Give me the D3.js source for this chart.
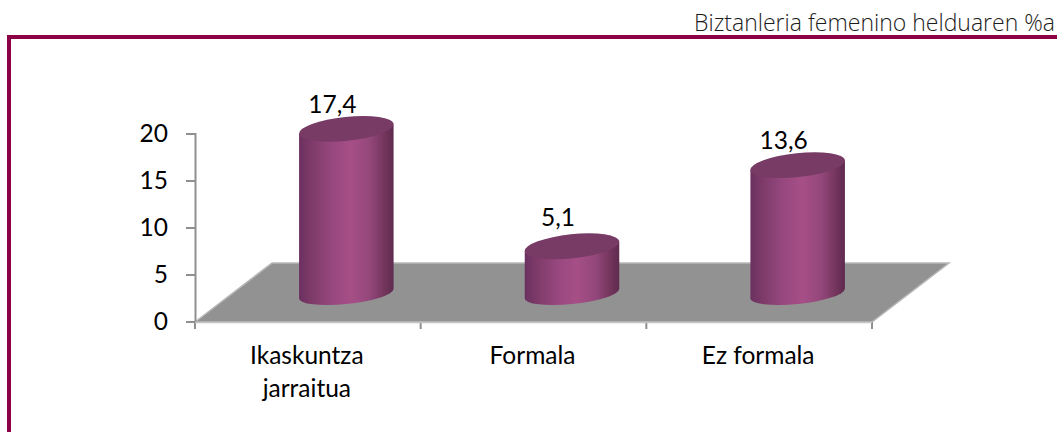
<!DOCTYPE html>
<html><head><meta charset="utf-8">
<script src="https://cdn.jsdelivr.net/npm/d3@7"></script>
<style>html,body{margin:0;padding:0;background:#fff}svg{display:block}</style>
</head><body><div id="c"></div>
<script>
const categories=[["Ikaskuntza","jarraitua"],["Formala"],["Ez formala"]];
const values=[17.4,5.1,13.6];
const valueLabels=["17,4","5,1","13,6"];
const yTicks=[0,5,10,15,20];
const headerText="Biztanleria femenino helduaren %a";
const labelLift=[16,20,16];

const W=1057,H=432;
const svg=d3.select("#c").append("svg").attr("width",W).attr("height",H);
const defs=svg.append("defs");
const grad=defs.append("linearGradient").attr("id","cyl").attr("x1","0").attr("x2","1").attr("y1","0").attr("y2","0");
[[0,"#6b3060"],[0.12,"#7c3a68"],[0.35,"#97487f"],[0.55,"#a64f87"],[0.75,"#93477b"],[0.92,"#703359"],[1,"#5f2b50"]]
  .forEach(s=>grad.append("stop").attr("offset",s[0]).attr("stop-color",s[1]));

// frame
const frame="#8c0045";
svg.append("path").attr("d",`M9,${H}V37H${W}`).attr("fill","none").attr("stroke",frame).attr("stroke-width",4);
svg.append("text").attr("x",1055).attr("y",31).attr("text-anchor","end")
  .attr("font-family","'Open Sans',sans-serif").attr("font-weight",300).attr("font-size",23).attr("fill","#1c1c1c").text(headerText);

const x=d3.scaleBand().domain(categories.map(c=>c.join(" "))).range([195,872]);
const y=d3.scaleLinear().domain([0,20]).range([321.5,133.5]);
const barY=d3.scaleLinear().domain([0,20]).range([295,104]);
const depthX=77,depthY=59,barDX=38.5;
const floorY=322;
const font="Lato,sans-serif",fs=24.5;

// floor
svg.append("path")
 .attr("d",d3.line()([[x.range()[0],floorY],[x.range()[0]+depthX,floorY-depthY],[x.range()[1]+depthX,floorY-depthY],[x.range()[1],floorY]])+"Z")
 .attr("fill","#929292").attr("stroke","#b8b8b8").attr("stroke-width",1.5);

// y axis
const yAxis=d3.axisLeft(y).tickValues(yTicks).tickSize(9).tickPadding(18);
const gy=svg.append("g").attr("transform","translate(195,0)").call(yAxis);
gy.select(".domain").attr("stroke","#8f8f8f").attr("stroke-width",2);
gy.selectAll("line").attr("stroke","#8f8f8f").attr("stroke-width",2);
gy.selectAll("text").attr("font-family",font).attr("font-size",fs).attr("fill","#000");

// x axis
const edges=[x.range()[0],...x.domain().map(d=>x(d)+x.bandwidth())];
svg.append("g").selectAll("line").data(edges).join("line")
 .attr("x1",d=>d).attr("x2",d=>d).attr("y1",floorY).attr("y2",329)
 .attr("stroke","#8f8f8f").attr("stroke-width",2);
svg.append("line").attr("x1",edges[0]).attr("x2",edges[3]).attr("y1",floorY+.5).attr("y2",floorY+.5)
 .attr("stroke","#c4c4c4").attr("stroke-width",1.5);
const labs=svg.append("g").selectAll("text").data(categories).join("text")
 .attr("text-anchor","middle").attr("font-family",font).attr("font-size",fs).attr("fill","#000");
labs.each(function(c){
 const k=c.join(" ");
 d3.select(this).selectAll("tspan").data(c).join("tspan")
  .attr("x",x(k)+x.bandwidth()/2-1).attr("y",(d,i)=>364+i*32.5).text(d=>d);
});

// cylinders
const rx=47.5,ry=12,rot=-6,th=rot*Math.PI/180;
const rb=10.5;
const ex=Math.sqrt(rx*rx*Math.cos(th)**2+ry*ry*Math.sin(th)**2);
const eyOf=r=>(rx*rx-r*r)*Math.sin(Math.abs(th))*Math.cos(th)/ex;
const ey=eyOf(ry),eb=eyOf(rb);
const g=svg.append("g").selectAll("g").data(values).join("g");
g.each(function(v,i){
 const k=x.domain()[i], cx=x(k)+x.bandwidth()/2+barDX, base=barY(0)-1.5, top=barY(v);
 const s=d3.select(this);
 s.append("path").attr("fill","url(#cyl)")
  .attr("d",`M${cx-ex},${top+ey}L${cx-ex},${base+eb}A${rx},${rb} ${rot} 0 0 ${cx+ex},${base-eb}L${cx+ex},${top-ey}Z`);
 s.append("ellipse").attr("cx",cx).attr("cy",top).attr("rx",rx).attr("ry",ry)
  .attr("transform",`rotate(${rot} ${cx} ${top})`).attr("fill","#773b66");
 s.append("text").attr("x",cx-14).attr("y",top-labelLift[i]).attr("text-anchor","middle")
  .attr("font-family",font).attr("font-size",fs).attr("fill","#000").text(valueLabels[i]);
});
</script></body></html>
